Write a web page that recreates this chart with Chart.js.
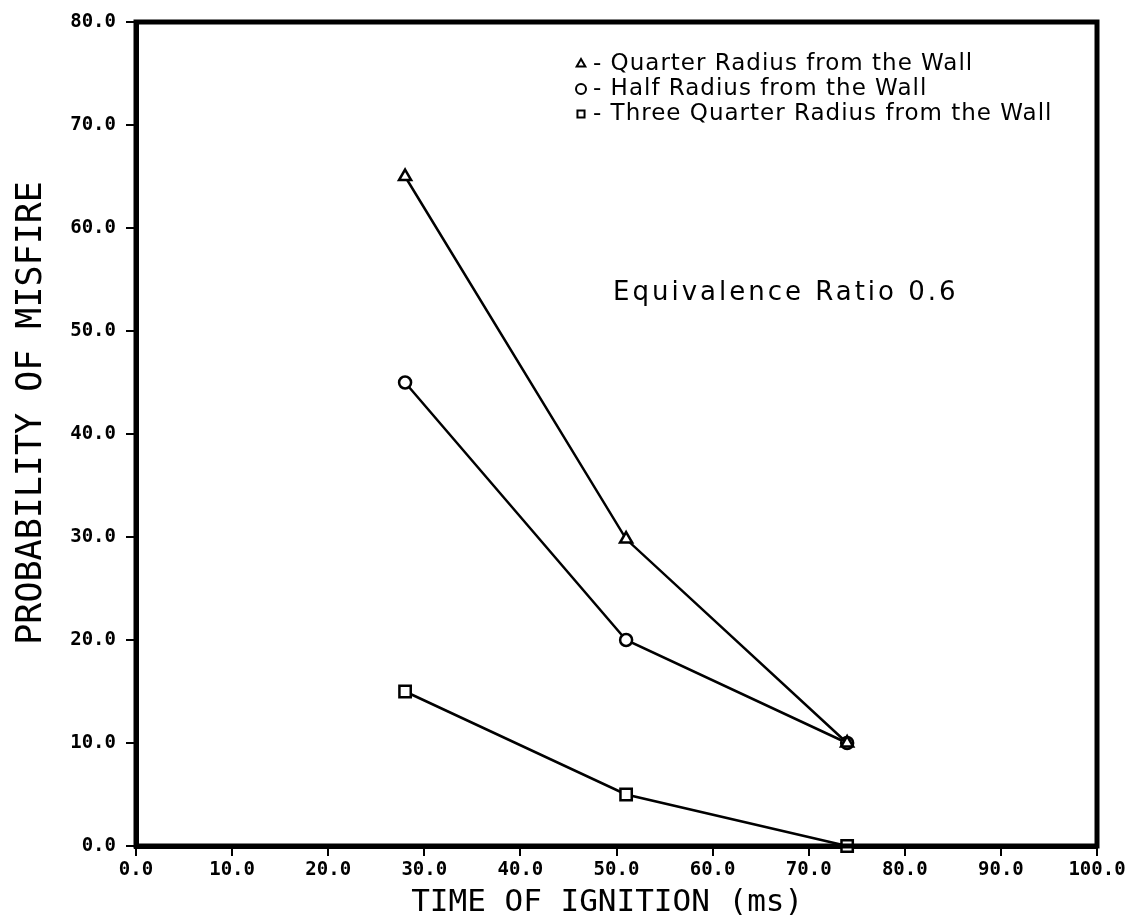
<!DOCTYPE html>
<html>
<head>
<meta charset="utf-8">
<script src="https://cdn.jsdelivr.net/npm/chart.js@4/dist/chart.umd.min.js"></script>
<style>
html,body{margin:0;padding:0;background:#fff;}
#wrap{width:1143px;height:922px;}
</style>
</head>
<body>
<div id="wrap"><canvas id="c" width="1143" height="922"></canvas></div>
<script>
const timeOfIgnition = [28, 51, 74];
const quarterRadius = [65, 29.8, 10];
const halfRadius = [45, 20, 10];
const threeQuarterRadius = [15, 5, 0];
const seriesLabels = ['Quarter Radius from the Wall', 'Half Radius from the Wall', 'Three Quarter Radius from the Wall'];
const annotationText = 'Equivalence Ratio 0.6';
const xTitle = 'TIME OF IGNITION (ms) ';
const yTitle = '  PROBABILITY OF MISFIRE';

function pts(ys){ return timeOfIgnition.map((x,i)=>({x:x, y:ys[i]})); }

const frame = {
  id:'frame',
  afterDraw(chart){
    const {ctx, chartArea:a} = chart;
    ctx.save();
    ctx.strokeStyle='#000'; ctx.lineWidth=5;
    ctx.strokeRect(a.left, a.top, a.right-a.left, a.bottom-a.top);
    // legend
    const styles=['triangle','circle','rect'];
    const lx = a.left + 445, ly = [a.top+42, a.top+67, a.top+92];
    ctx.textBaseline='middle'; ctx.textAlign='left';
    styles.forEach((s,i)=>{
      ctx.lineWidth=2; ctx.strokeStyle='#000'; ctx.fillStyle='#fff';
      Chart.helpers.drawPoint(ctx,{pointStyle:s,radius:5,borderWidth:2},lx,ly[i]);
      ctx.fillStyle='#000';
      ctx.font='23px "DejaVu Sans"';
      ctx.letterSpacing='1px';
      ctx.fillText('- '+seriesLabels[i], lx+12, ly[i]);
    });
    ctx.font='26px "DejaVu Sans"';
    ctx.letterSpacing='3px';
    ctx.fillText(annotationText, a.left+477, a.top+271);
    ctx.restore();
  }
};

new Chart(document.getElementById('c'), {
  type:'line',
  data:{datasets:[
    {label:seriesLabels[0], data:pts(quarterRadius), pointStyle:'triangle', pointRadius:7},
    {label:seriesLabels[1], data:pts(halfRadius), pointStyle:'circle', pointRadius:6},
    {label:seriesLabels[2], data:pts(threeQuarterRadius), pointStyle:'rect', pointRadius:8}
  ].map(d=>Object.assign(d,{borderColor:'#000',backgroundColor:'#fff',borderWidth:2.5,pointBorderWidth:2.5,pointBorderColor:'#000',pointBackgroundColor:'#fff',tension:0,clip:false}))},
  options:{
    responsive:false, animation:false, devicePixelRatio:1,
    layout:{padding:{top:22,right:46,left:0,bottom:0}},
    plugins:{legend:{display:false}, tooltip:{enabled:false}},
    scales:{
      x:{type:'linear', min:0, max:100,
        afterFit(s){s.height=76;},
        ticks:{stepSize:10, color:'#000', font:{family:'"DejaVu Sans Mono"', size:19, weight:'bold'}, padding:3, maxRotation:0, callback:v=>v.toFixed(1)},
        grid:{drawOnChartArea:false, drawTicks:true, tickLength:10, color:'#000', lineWidth:2},
        border:{display:true, color:'#000', width:5},
        title:{display:true, text:xTitle, color:'#000', font:{family:'"DejaVu Sans Mono"', size:31}, padding:{top:0,bottom:0}}
      },
      y:{type:'linear', min:0, max:80,
        afterFit(s){s.width=136;},
        ticks:{stepSize:10, color:'#000', font:{family:'"DejaVu Sans Mono"', size:19, weight:'bold'}, padding:10, callback:v=>v.toFixed(1)},
        grid:{drawOnChartArea:false, drawTicks:true, tickLength:10, color:'#000', lineWidth:2},
        border:{display:true, color:'#000', width:5},
        title:{display:true, text:yTitle, color:'#000', font:{family:'"DejaVu Sans Mono"', size:35}, padding:{top:11,bottom:0}}
      }
    }
  },
  plugins:[frame]
});
</script>
</body>
</html>
